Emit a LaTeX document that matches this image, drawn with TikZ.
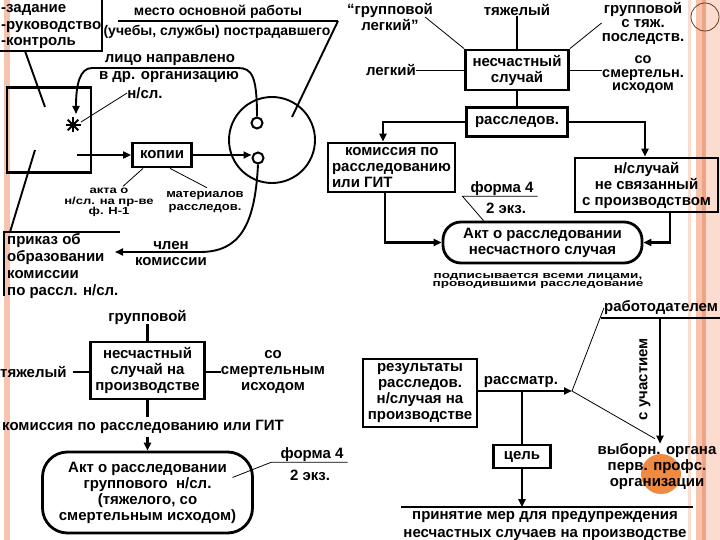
\documentclass[tikz,border=0pt]{standalone}
\usepackage{fontspec}
\usepackage{graphicx}
\setmainfont{Liberation Sans}
\usetikzlibrary{arrows.meta,positioning}

\definecolor{stripe}{HTML}{F5C4B1}
\definecolor{stripelight}{HTML}{FCDCCF}
\definecolor{stripemid}{HTML}{F9C2AA}
\definecolor{stripedark}{HTML}{EFA485}
\definecolor{dot}{HTML}{EF8A43}

\newcommand{\squeezed}[2]{\scalebox{1}[#1]{\begin{tabular}{@{}c@{}}#2\end{tabular}}}

\tikzset{
  txt/.style={font=\bfseries\fontsize{15}{16}\selectfont, inner sep=0pt, align=center},
  small/.style={font=\bfseries\fontsize{13}{13}\selectfont, inner sep=0pt},
  box/.style={txt, draw, line width=2.8pt, inner sep=2pt},
  heavy/.style={line width=2.4pt},
  mid/.style={line width=1.9pt},
  fine/.style={line width=0.8pt},
  tip/.style={-{Triangle[length=8pt,width=7pt]}},
  hole/.style={circle, draw, line width=2pt, fill=white, minimum size=11, inner sep=0pt},
}

\begin{document}
\begin{tikzpicture}[x=1pt,y=-1pt]
  \useasboundingbox (0,0) rectangle (720,540);
  % slide decoration
  \fill[stripe] (4,0) rectangle (10,540);
  \fill[stripelight] (688,0) rectangle (691,540);
  \fill[stripemid] (696,0) rectangle (702,540);
  \fill[stripedark] (702,0) rectangle (706,540);
  \fill[stripelight] (706,0) rectangle (720,540);
  \draw[brown!50!black, line width=0.8pt] (705,17) circle (14);
  \fill[dot] (661,474) circle (20);

  % top left
  \node[txt, align=left, anchor=west, font=\bfseries\fontsize{15}{16.5}\selectfont] (tasks) at (1,27) {-задание\\-руководство\\-контроль};
  \draw[heavy] (102,0) -- (102,51) -- (0,51);
  \coordinate (tasksbox) at (25,51);
  \node[txt, font=\bfseries\fontsize{14}{16}\selectfont] (work1) at (218,12) {место основной работы};
  \node[txt, font=\bfseries\fontsize{14}{16}\selectfont] (work2) at (217,32) {(учебы, службы) пострадавшего};
  \node[draw, line width=2.8pt, minimum width=84, minimum height=85] (firm) at (49,130) {};
  \coordinate (star) at (73,125);
  \foreach \a in {0,45,90,135}
    \draw[line width=2pt] (star) ++(\a:7.5) -- ++(\a+180:15);
  \draw[mid] (tasksbox) -- (45,107);
  \node[txt] (sent1) at (170,60) {лицо направлено};
  \node[txt] (sent2) at (169,77) {в др. организацию};
  \node[txt] (sent3) at (145,93) {н/сл.};
  \draw[fine] (81,122) -- (sent3.west);

  \draw[mid] (272,140) circle (43);
  \coordinate (inside) at (292,117);
  \draw[heavy] (118,21) -- (338,21);
  \draw[mid] (338,21) -- (inside);
  \node[hole] (hole1) at (257,123) {};
  \node[hole] (hole2) at (258,158) {};
  \draw[mid, tip] (hole1.north) .. controls (257,76) and (252,68) .. (238,68) -- (92,68)
    .. controls (80,68) and (76,84) .. (76,114);

  \node[box, minimum width=59, minimum height=24] (copies) at (162,155) {копии};
  \draw[mid, tip] (77,155) -- (copies.west);
  \draw[mid, tip] (copies.east) -- (copies.east -| hole2.west);
  \node[small] (actH) at (109,202) {\squeezed{0.78}{акта о\\н/сл. на пр-ве\\ф. Н-1}};
  \node[small, font=\bfseries\fontsize{13}{15}\selectfont] (mater) at (205,201) {\squeezed{0.87}{материалов\\расследов.}};
  \draw[fine] ([xshift=-19pt]copies.south) -- ([xshift=14pt]actH.north);
  \draw[fine] ([xshift=8pt]copies.south) -- ([xshift=2pt]mater.north);

  \node[txt, align=left, anchor=west, font=\bfseries\fontsize{15}{17}\selectfont] (order) at (7,266) {приказ об\\образовании\\комиссии\\по рассл. н/сл.};
  \draw[heavy] (120,232) -- (4,232) -- (4,296);
  \draw[mid] (35,150) -- (10,232);
  \node[txt] (member) at (171,254) {член\\комиссии};
  \coordinate (orderin) at (115,252);
  \draw[mid, tip] (hole2.south) .. controls (255,225) and (240,252) .. (200,252) -- (orderin);

  % top right
  \node[box, minimum width=103, minimum height=40] (accident) at (517,70) {несчастный\\случай};
  \node[txt] (grave) at (517,10) {тяжелый};
  \node[txt] (grouplight) at (390,17) {“групповой\\легкий”};
  \node[txt, font=\bfseries\fontsize{15}{14}\selectfont] (groupgrave) at (643,23) {групповой\\с тяж.\\последств.};
  \node[txt] (light) at (391,70) {легкий};
  \node[txt, font=\bfseries\fontsize{14.5}{13.5}\selectfont] (fatal) at (643,75) {со\\смертельн.\\исходом};
  \draw[mid] (grave) -- (accident);
  \draw[fine] ([xshift=-8pt]grouplight.east) -- (accident.north west);
  \draw[fine] (groupgrave.west) -- (accident.north east);
  \draw[fine] (light.east) -- (accident.west);
  \draw[fine] (accident.east) -- (accident.east -| fatal.west);

  \node[box, minimum width=101, minimum height=29] (inquiry) at (517,122) {расследов.};
  \draw[heavy] (accident) -- (inquiry);
  \node[box, align=left, minimum width=127, minimum height=49] (commission) at (391.5,167.5) {\hspace*{13pt}комиссия по\\расследованию\\или ГИТ};
  \node[box, minimum width=143, minimum height=54] (notwork) at (646.5,185) {н/случай\\не связанный\\с производством};
  \node[box, rounded corners=18pt, minimum width=199, minimum height=41] (act) at (542.5,242.5) {Акт о расследовании\\несчастного случая};
  \draw[heavy, tip] (inquiry.west) -| ([xshift=-8.5pt]commission.north);
  \draw[heavy, tip] (inquiry.east) -| ([xshift=-1.5pt]notwork.north);
  \draw[heavy, tip] ([xshift=-6.5pt]commission.south) |- (act.west);
  \draw[heavy, tip] ([xshift=23.5pt]notwork.south) |- (act.east);
  \node[txt] (form1) at (502,189) {форма 4};
  \node[txt] (copies1) at (506,208) {2 экз.};
  \draw[fine] ([xshift=4pt]form1.south east) -- ([xshift=-8pt]form1.south west) -- ([xshift=-59pt]act.north);
  \node[small, font=\bfseries\fontsize{13.5}{12}\selectfont] (signed) at (538,281) {\squeezed{0.7}{подписывается всеми лицами,\\проводившими расследование}};

  % bottom left
  \node[txt] (group) at (147.5,317) {групповой};
  \node[box, minimum width=114, minimum height=57] (prodacc) at (147.5,370.5) {несчастный\\случай на\\производстве};
  \node[txt, anchor=west] (severe) at (0,372) {тяжелый};
  \node[txt] (fatal2) at (273,372) {со\\смертельным\\исходом};
  \node[txt] (commission2) at (143,427) {комиссия по расследованию или ГИТ};
  \node[box, rounded corners=25pt, minimum width=210, minimum height=81] (act2) at (147.5,492.5) {Акт о расследовании\\группового \ н/сл.\\(тяжелого, со\\смертельным исходом)};
  \draw[heavy] (group) -- (prodacc);
  \draw[heavy] ([xshift=6pt]severe.east) -- (prodacc.west |- severe.east);
  \draw[heavy] (prodacc.east |- fatal2.west) -- (fatal2.west);
  \draw[heavy] (prodacc.south) -- ([yshift=3pt]prodacc.south |- commission2.north);
  \draw[heavy, tip] ([yshift=-3pt]prodacc.south |- commission2.south) -- (act2.north);
  \node[txt] (form2) at (312,455) {форма 4};
  \node[txt] (copies2) at (310,475) {2 экз.};
  \draw[fine] ([xshift=4pt]form2.south east) -- ([xshift=-9pt]form2.south west) -- ([xshift=85pt,yshift=15pt]act2.center);

  % bottom right
  \node[box, minimum width=114, minimum height=68] (results) at (420,393) {результаты\\расследов.\\н/случая на\\производстве};
  \coordinate (review) at (572,391);
  \draw[heavy, tip] (results.east |- review) -- (review);
  \node[txt] (reviewlbl) at (521,382) {рассматр.};
  \node[txt] (employer) at (661,308) {работодателем};
  \draw[heavy] ([shift={(-3pt,-3pt)}]employer.south west) -- ([shift={(4pt,-3pt)}]employer.south east);
  \node[txt] (union) at (657,467) {выборн. органа\\перв. профс.\\организации};
  \node[txt, rotate=90] (with) at (645,379) {с участием};
  \draw[heavy, tip] ([yshift=-3pt]employer.south -| 660,0) -- (660,0 |- union.north);
  \draw[fine] (review) -- (employer.west);
  \draw[fine] (review) -- ([xshift=-2pt,yshift=5pt]union.north);
  \node[box, minimum width=57, minimum height=23] (goal) at (522,456.5) {цель};
  \draw[heavy] (review -| goal.north) -- (goal.north);
  \node[txt, font=\bfseries\fontsize{15}{18}\selectfont] (prevent) at (545,526) {принятие мер для предупреждения\\несчастных случаев на производстве};
  \coordinate (bar) at ([yshift=4pt]prevent.north);
  \draw[heavy] ([shift={(-2pt,4pt)}]prevent.north west) -- ([shift={(6pt,4pt)}]prevent.north east);
  \draw[heavy, tip] (goal.south) -- (goal.south |- bar);
\end{tikzpicture}
\end{document}
